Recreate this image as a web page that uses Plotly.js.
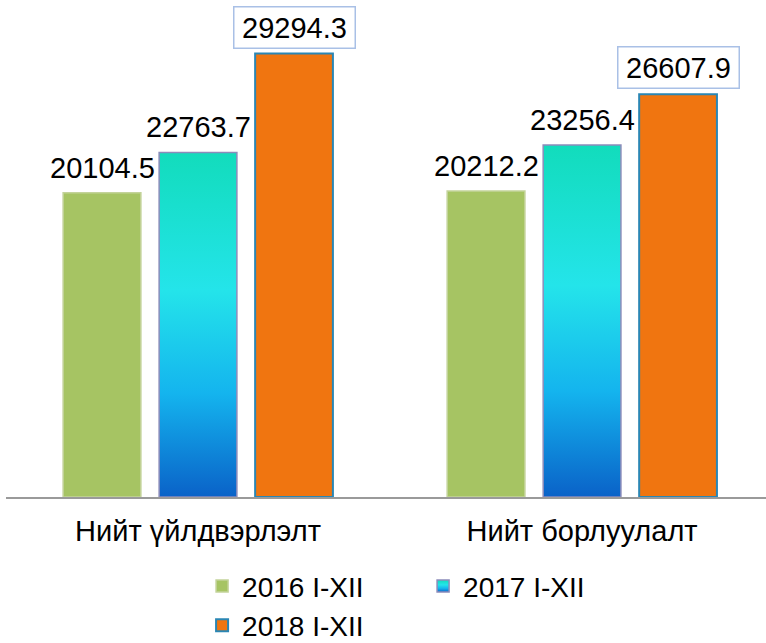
<!DOCTYPE html>
<html>
<head>
<meta charset="utf-8">
<script src="https://cdn.plot.ly/plotly-3.0.1.min.js"></script>
<style>
  html, body { margin: 0; padding: 0; background: #fff; }
  #chart { width: 766px; height: 643px; }
</style>
</head>
<body>
<div id="chart"></div>
<script>
// categories and series
var categories = ['Нийт үйлдвэрлэлт', 'Нийт борлуулалт'];
var seriesNames = ['2016 I-XII', '2017 I-XII', '2018 I-XII'];
var values2016 = [20104.5, 20212.2];
var values2017 = [22763.7, 23256.4];
var values2018 = [29294.3, 26607.9];

var labelFont = {family: 'Liberation Sans, Arial, sans-serif', size: 29, color: '#000'};
var legendFont = {family: 'Liberation Sans, Arial, sans-serif', size: 28, color: '#000'};

var trace2016 = {
  x: categories,
  y: values2016,
  name: seriesNames[0],
  type: 'bar',
  marker: {color: '#a6c463', line: {color: '#c3d39a', width: 1.5}},
  legend: 'legend'
};

var trace2017 = {
  x: categories,
  y: values2017,
  name: seriesNames[1],
  type: 'bar',
  marker: {color: '#1cc8e8', line: {color: '#8c8cba', width: 1.5}},
  legend: 'legend'
};

var trace2018 = {
  x: categories,
  y: values2018,
  name: seriesNames[2],
  type: 'bar',
  marker: {color: '#f07510', line: {color: '#2a86b4', width: 2}},
  legend: 'legend2'
};

// value labels: plain for 2016/2017, boxed for 2018
function makeLabels(vals, offset, boxed) {
  return vals.map(function(v, i){
    var a = {
      x: i + offset,
      y: v,
      xref: 'x',
      yref: 'y',
      yanchor: 'bottom',
      yshift: boxed ? 5 : 7,
      text: v.toFixed(1),
      showarrow: false,
      font: labelFont
    };
    if (boxed) {
      a.bgcolor = '#fff';
      a.bordercolor = '#a9c0e6';
      a.borderwidth = 1.5;
      a.width = 118;
      a.height = 38;
    }
    return a;
  });
}
var annotations = []
  .concat(makeLabels(values2016, -0.25, false))
  .concat(makeLabels(values2017, 0, false))
  .concat(makeLabels(values2018, 0.25, true));

var legendBase = {
  orientation: 'h',
  xref: 'paper',
  x: 0.258,
  xanchor: 'left',
  yref: 'container',
  yanchor: 'top',
  font: legendFont,
  entrywidth: 176,
  entrywidthmode: 'pixels',
  bgcolor: 'rgba(0,0,0,0)'
};

var layout = {
  width: 766,
  height: 643,
  margin: {l: 6, r: 0, t: 10, b: 146},
  paper_bgcolor: '#fff',
  plot_bgcolor: '#fff',
  font: labelFont,
  barmode: 'group',
  bargap: 0.25,
  bargroupgap: 0.19,
  showlegend: true,
  legend: Object.assign({}, legendBase, {y: 0.127}),
  legend2: Object.assign({}, legendBase, {y: 0.066}),
  xaxis: {
    type: 'category',
    range: [-0.5, 1.479],
    showline: true,
    linecolor: '#9a9a9a',
    linewidth: 1.5,
    ticks: '',
    ticklabelstandoff: 8,
    tickfont: labelFont,
    fixedrange: true
  },
  yaxis: {
    range: [0, 32170],
    visible: false,
    showgrid: false,
    zeroline: false,
    fixedrange: true
  },
  annotations: annotations
};

Plotly.newPlot('chart', [trace2016, trace2017, trace2018], layout, {displayModeBar: false, staticPlot: true}).then(function(gd){
  // vertical gradient for the 2017 bars, like the original
  var ns = 'http://www.w3.org/2000/svg';
  var svg = gd.querySelector('svg.main-svg');
  var defs = svg.querySelector('defs');
  var grad = document.createElementNS(ns, 'linearGradient');
  grad.setAttribute('id', 'grad2017');
  grad.setAttribute('x1', '0'); grad.setAttribute('y1', '0');
  grad.setAttribute('x2', '0'); grad.setAttribute('y2', '1');
  [['0', '#12dcbc'], ['0.4', '#24e4ea'], ['0.7', '#14b4ee'], ['1', '#0a62c8']].forEach(function(s){
    var stop = document.createElementNS(ns, 'stop');
    stop.setAttribute('offset', s[0]);
    stop.setAttribute('stop-color', s[1]);
    grad.appendChild(stop);
  });
  defs.appendChild(grad);

  var barTraces = gd.querySelectorAll('.barlayer .trace');
  if (barTraces[1]) {
    barTraces[1].querySelectorAll('path').forEach(function(p){
      p.style.fill = 'url(#grad2017)';
    });
  }
  var legendTraces = gd.querySelectorAll('.legend .traces');
  if (legendTraces[1]) {
    legendTraces[1].querySelectorAll('.legendpoints path').forEach(function(p){
      p.style.fill = 'url(#grad2017)';
    });
  }
});
</script>
</body>
</html>
